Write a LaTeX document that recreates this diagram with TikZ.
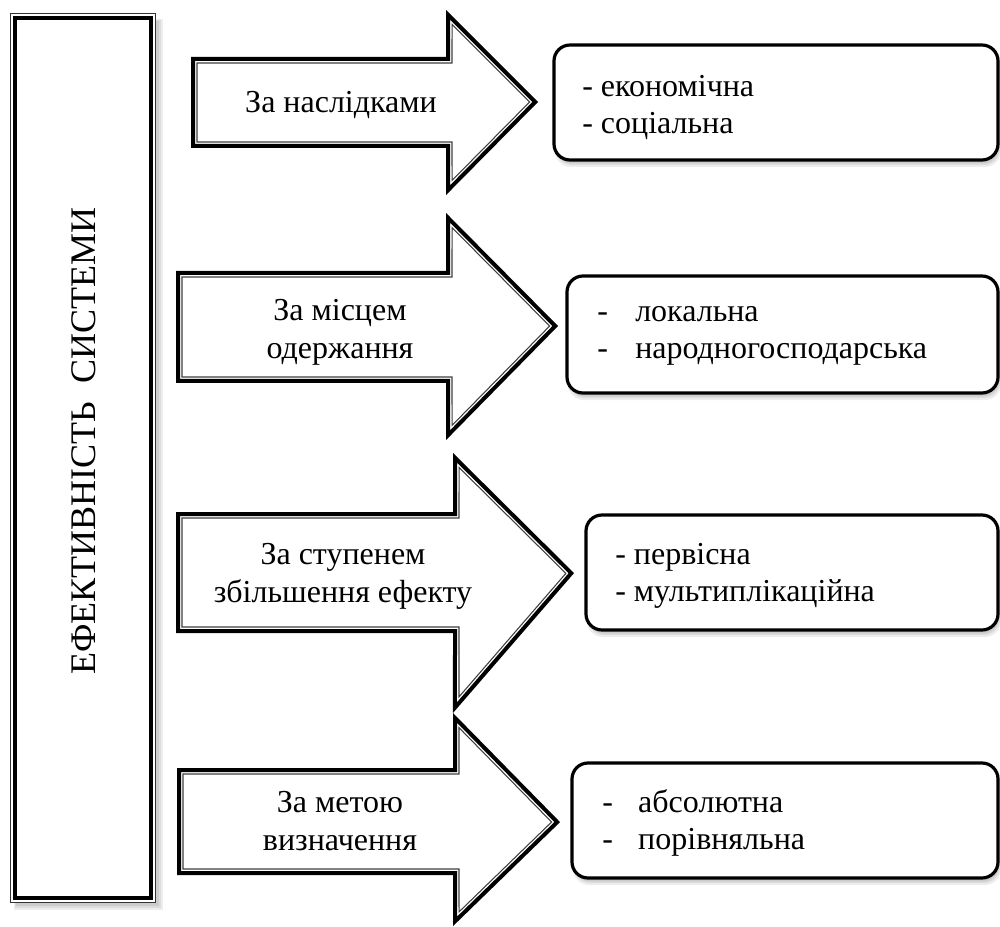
\documentclass[tikz,border=0pt]{standalone}
\usepackage{fontspec}
\usetikzlibrary{calc}
\setmainfont{Liberation Serif}
\newfontfamily\tnr{Liberation Serif}
\begin{document}
\begin{tikzpicture}[x=0.75pt,y=-0.75pt]
\useasboundingbox (0,0) rectangle (1000,927);
\tikzset{
  txt/.style={font=\tnr\fontsize{24}{28.5}\selectfont, align=center, inner sep=0pt},
  itm/.style={font=\tnr\fontsize{24}{27.75}\selectfont, align=left, anchor=west, inner sep=0pt},
  rbox/.style={draw=black, line width=2.4pt, rounded corners=12pt, fill=white},
  shd/.style={fill=black, opacity=0.07},
  outerline/.style={draw=black, line width=3pt, line join=miter},
  innerline/.style={draw=black!75, line width=0.8pt, line join=miter},
}
% ---- rounded box with soft shadow
\newcommand\rbx[4]{%
  \fill[shd, rounded corners=12pt] (#1+1,#2+3) rectangle (#3+3,#4+7);
  \fill[shd, rounded corners=12pt] (#1+2,#2+4) rectangle (#3+2,#4+5);
  \fill[shd, rounded corners=12pt] (#1+2,#2+4) rectangle (#3+1,#4+3.5);
  \draw[rbox] (#1,#2) rectangle (#3,#4);
}
% ---- inset polygon of the current arrow (p1..p7), #1 = inset in px
\newcommand\insetarr[2]{%
  \coordinate (u1) at ($(p3)!#1*0.75pt!-90:(p4)$);
  \coordinate (u2) at ($(p4)!#1*0.75pt!90:(p3)$);
  \coordinate (v1) at ($(p4)!#1*0.75pt!-90:(p5)$);
  \coordinate (v2) at ($(p5)!#1*0.75pt!90:(p4)$);
  \coordinate (r1) at ($(p2)+(#1,0)$);
  \coordinate (r2) at ($(p3)+(#1,0)$);
  \coordinate (q1) at ($(p1)+(#1,#1)$);
  \coordinate (q2) at ($(p2)+(#1,#1)$);
  \coordinate (q3) at (intersection of u1--u2 and r1--r2);
  \coordinate (q4) at (intersection of u1--u2 and v1--v2);
  \coordinate (q5) at (intersection of v1--v2 and r1--r2);
  \coordinate (q6) at ($(p6)+(#1,-#1)$);
  \coordinate (q7) at ($(p7)+(#1,-#1)$);
  \draw[#2] (q1) -- (q2) -- (q3) -- (q4) -- (q5) -- (q6) -- (q7) -- cycle;
}
% ---- block arrow, thick-thin border
\newcommand\barr[8]{%
  \coordinate (p1) at (#1,#2);
  \coordinate (p2) at (#4,#2);
  \coordinate (p3) at (#4,#5);
  \coordinate (p4) at (#7,#8);
  \coordinate (p5) at (#4,#6);
  \coordinate (p6) at (#4,#3);
  \coordinate (p7) at (#1,#3);
  \fill[white] (p1) -- (p2) -- (p3) -- (p4) -- (p5) -- (p6) -- (p7) -- cycle;
  \insetarr{2}{outerline}
  \insetarr{6}{innerline}
}
% ---- left box
\fill[shd] (14,19) rectangle (163,910);
\fill[shd] (15,20) rectangle (161,908);
\fill[shd] (16,21) rectangle (159,906);
\fill[white] (10,13) rectangle (156,903);
\draw[black!80, line width=0.9pt] (10.5,13.5) rectangle (155.5,902.5);
\draw[black, line width=3.2pt] (15,18) rectangle (151,898);
\node[rotate=90, font=\tnr\fontsize{27}{31}\selectfont, inner sep=0pt] (title) at (84,441) {ЕФЕКТИВНІСТЬ\hspace{0.5em}СИСТЕМИ};

% ---- arrows
\barr{191}{57}{148}{446}{10}{195}{538}{102}
\barr{176}{271}{383}{446}{213}{440}{558}{326}
\barr{176}{512}{633}{453}{453}{713}{574}{573}
\barr{177}{768}{875}{453}{713}{926}{560}{822}

\node[txt] (a1) at (341,105) {За наслідками};
\node[txt] (a2) at (340,332) {За місцем\\одержання};
\node[txt] (a3) at (343,576) {За ступенем\\збільшення ефекту};
\node[txt] (a4) at (340,821) {За метою\\визначення};

% ---- result boxes
\rbx{554}{45}{998}{160}
\rbx{567}{276}{998}{393}
\rbx{586}{515}{998}{630}
\rbx{572}{763}{998}{878}

\node[itm] (i1) at (582,108) {- економічна\\- соціальна};
\node[itm] (i2) at (597,336) {\makebox[28.5pt][l]{-}локальна\\\makebox[28.5pt][l]{-}народногосподарська};
\node[itm] (i3) at (615,576) {- первісна\\- мультиплікаційна};
\node[itm] (i4) at (602,823) {\makebox[27pt][l]{-}абсолютна\\\makebox[27pt][l]{-}порівняльна};
\end{tikzpicture}
\end{document}
